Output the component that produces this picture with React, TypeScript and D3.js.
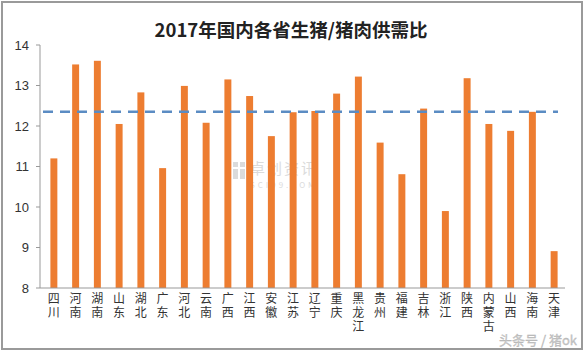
import React from 'react';
import * as d3 from 'd3';

const provinces = ['四川', '河南', '湖南', '山东', '湖北', '广东', '河北', '云南', '广西', '江西', '安徽', '江苏',
  '辽宁', '重庆', '黑龙江', '贵州', '福建', '吉林', '浙江', '陕西', '内蒙古', '山西', '海南', '天津'];
const ratios = [11.2, 13.52, 13.61, 12.05, 12.83, 10.96, 12.99, 12.08, 13.15, 12.74, 11.75, 12.34,
  12.37, 12.8, 13.22, 11.59, 10.81, 12.43, 9.9, 13.18, 12.05, 11.88, 12.35, 8.91];
const avgRatio = 12.35;
const yTicks = [8, 9, 10, 11, 12, 13, 14];
const title = '2017年国内各省生猪/猪肉供需比';

const W = 587;
const H = 354;

export default function App() {
  const x = d3.scaleBand<string>()
    .domain(provinces)
    .range([43, 565])
    .paddingInner(0.68)
    .paddingOuter(0.34);

  const y = d3.scaleLinear().domain([8, 14]).range([288, 45]);

  const left = 40;
  const right = 565;

  return (
    <svg width={W} height={H} style={{ position: 'absolute', left: 0, top: 0, display: 'block' }}>
      <rect x={0} y={0} width={W} height={H} fill="#fff" />
      <rect x={2} y={2} width={580} height={347} fill="none" stroke="#9a9a9a" strokeWidth={2} />

      <text x={291} y={37} textAnchor="middle" fontFamily="'Noto Sans CJK SC', sans-serif"
        fontWeight="bold" fontSize={18.5} fill="#222">{title}</text>

      {/* faint watermark */}
      <g opacity={0.35} fill="#9a9a9a" fontFamily="'Noto Sans CJK SC', serif">
        <rect x={233} y={162} width={5} height={5} />
        <rect x={240} y={162} width={5} height={5} />
        <rect x={233} y={169} width={5} height={10} />
        <rect x={240} y={169} width={5} height={10} />
        <text x={250} y={174} fontSize={15} letterSpacing={2}>卓创资讯</text>
        <text x={250} y={188} fontSize={8} letterSpacing={3}>SCI99.COM</text>
      </g>

      {/* y axis */}
      <line x1={left} x2={left} y1={y(14)} y2={y(8)} stroke="#999" />
      {yTicks.map(t => (
        <g key={t}>
          <line x1={left - 4} x2={left} y1={y(t)} y2={y(t)} stroke="#999" />
          <text x={29} y={y(t)} dy="0.35em" textAnchor="end" fontFamily="'Liberation Sans', Arial, sans-serif"
            fontSize={13} fill="#333">{t}</text>
        </g>
      ))}

      {/* bars */}
      {provinces.map((p, i) => (
        <rect key={p} x={x(p)} y={y(ratios[i])} width={x.bandwidth()} height={y(8) - y(ratios[i])} fill="#ed7d31" />
      ))}

      {/* average line */}
      <line x1={left + 3} x2={558} y1={y(avgRatio)} y2={y(avgRatio)} stroke="#5b8cc3"
        strokeWidth={2.5} strokeDasharray="10,7" />

      {/* x axis, labels stacked one character per line */}
      <line x1={left} x2={right} y1={y(8)} y2={y(8)} stroke="#999" />
      {provinces.map(p => p.split('').map((c, j) => (
        <text key={p + j} x={(x(p) ?? 0) + x.bandwidth() / 2} y={303 + j * 14} textAnchor="middle"
          fontFamily="'Noto Sans CJK SC', serif" fontSize={12} fill="#333">{c}</text>
      )))}

      <text x={577} y={345} textAnchor="end" fontFamily="'Noto Sans CJK SC', sans-serif" fontSize={13}
        fill="#c8c8c8" stroke="#b0b0b0" strokeWidth={0.3}>头条号 / 猪ok</text>
    </svg>
  );
}
